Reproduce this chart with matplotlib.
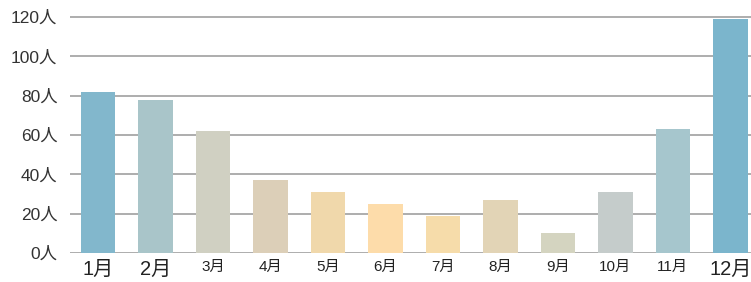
import matplotlib
matplotlib.use("Agg")
import matplotlib.pyplot as plt

plt.rcParams['font.family'] = ['Liberation Sans', 'Noto Sans CJK JP', 'DejaVu Sans']

months = ['1月', '2月', '3月', '4月', '5月', '6月', '7月', '8月', '9月', '10月', '11月', '12月']
visitors = [82, 78, 62, 37, 31, 25, 19, 27, 10, 31, 63, 119]
bar_colors = ['#82b7cc', '#a9c5c9', '#d0d0c2', '#dccfb8', '#f0d8ab', '#fddcaa',
              '#f6dcaa', '#e2d4b6', '#d4d4c0', '#c5cccb', '#a6c6cd', '#7bb5cc']
yticks = [0, 20, 40, 60, 80, 100, 120]
ytick_labels = ['0人', '20人', '40人', '60人', '80人', '100人', '120人']
big_months = ['1月', '2月', '12月']

fig = plt.figure(figsize=(7.51, 2.82), dpi=100)
ax = fig.add_axes([0.0932, 0.1028, 0.9068, 0.8440])

x = range(len(months))
ax.bar(x, visitors, width=0.6, color=bar_colors, zorder=3)

ax.set_ylim(0, 121)
ax.set_xlim(-0.49, 11.36)
ax.set_yticks(yticks)
ax.set_yticklabels(ytick_labels, fontsize=12.5, color='#333333')
ax.set_xticks(list(x))
ax.set_xticklabels(months, color='#222222')
for lbl in ax.get_xticklabels():
    if lbl.get_text() in big_months:
        lbl.set_fontsize(14.5)
    else:
        lbl.set_fontsize(11)

ax.yaxis.grid(True, color='#a0a0a0', linewidth=1.2, zorder=0)
ax.set_axisbelow(True)
ax.tick_params(axis='both', length=0)
ax.tick_params(axis='y', pad=9)
ax.tick_params(axis='x', pad=5)
for s in ax.spines.values():
    s.set_visible(False)

fig.savefig('out.png', dpi=100)
